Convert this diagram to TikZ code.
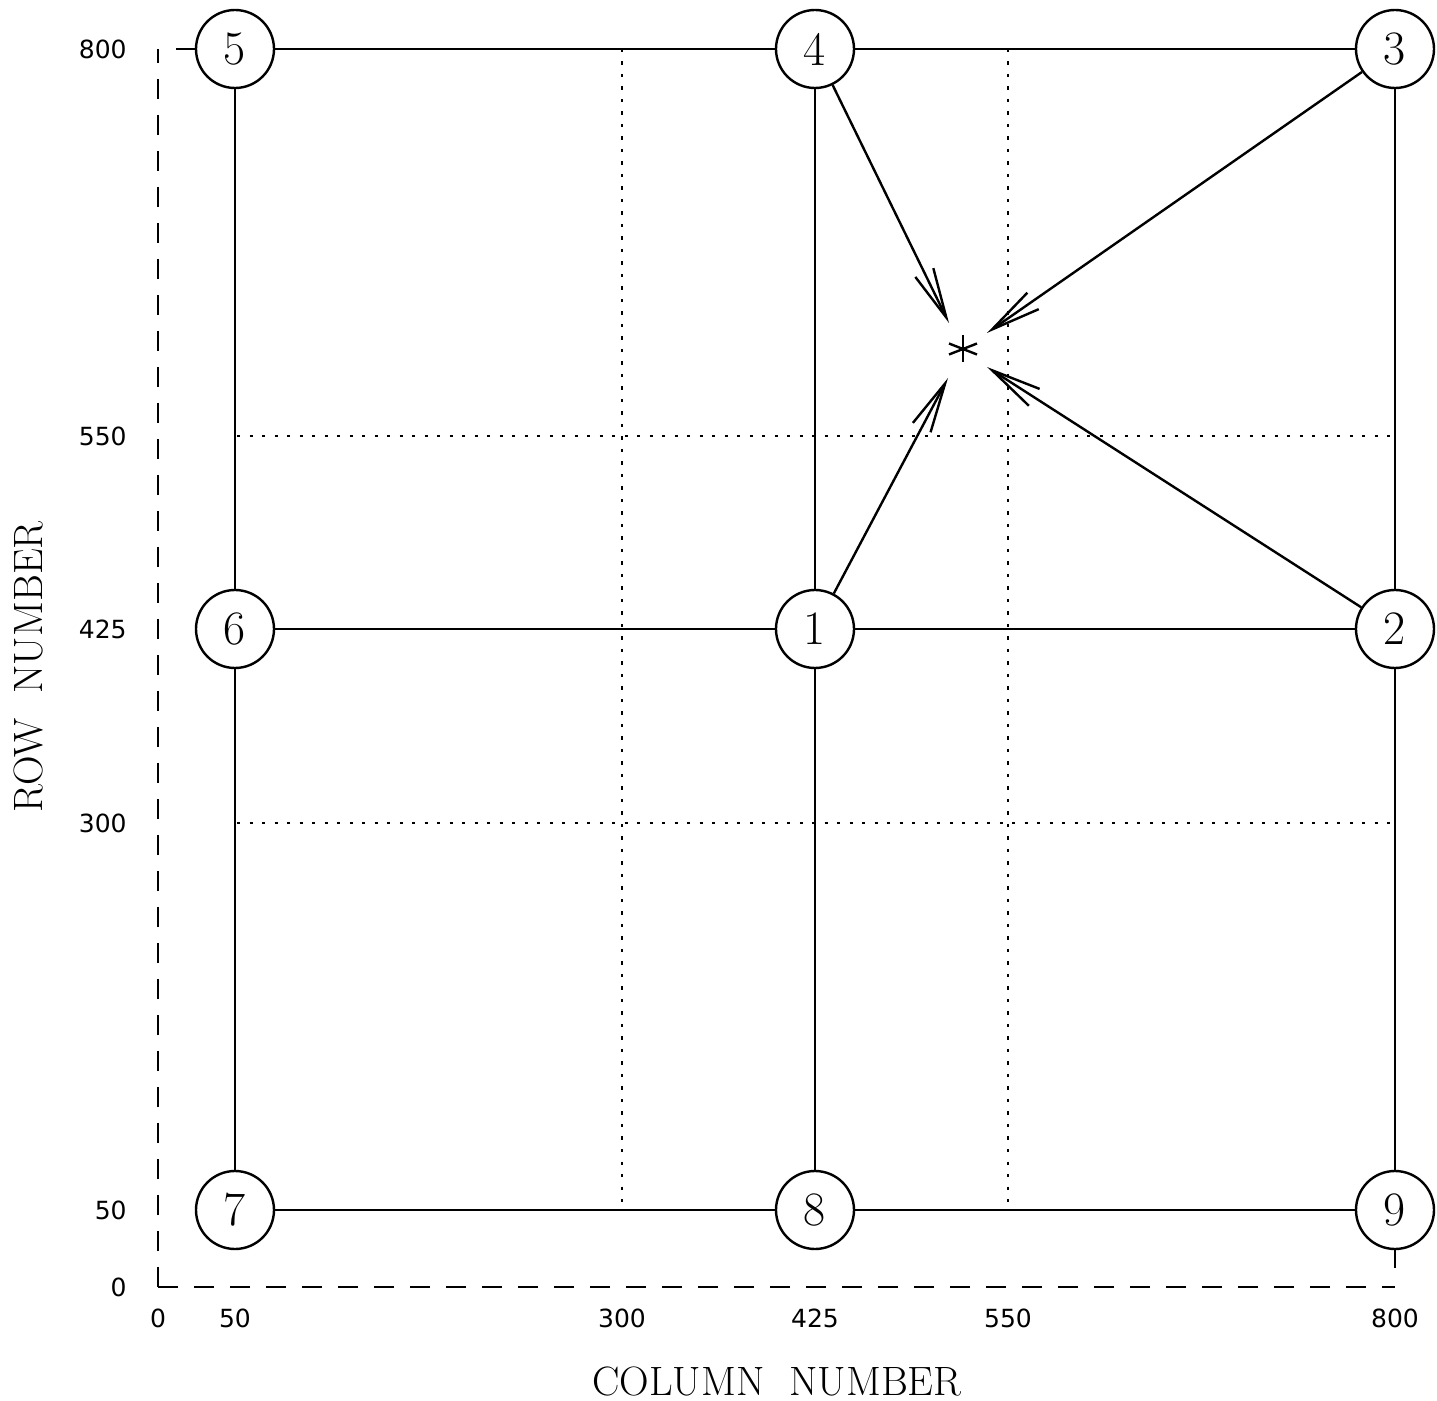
\documentclass[tikz,border=0pt]{standalone}
\usepackage{fontspec}
\newfontfamily\axfont{DejaVu Sans}
\usetikzlibrary{arrows.meta,calc}
\begin{document}
\begin{tikzpicture}[x=0.5pt,y=-0.5pt,
  stn/.style={circle,draw,line width=1.2pt,minimum size=39pt,inner sep=0pt,font=\fontsize{24}{24}\selectfont},
  gridline/.style={line width=1.2pt},
  dots/.style={line width=1.2pt,dash pattern=on 1.6pt off 4.65pt},
  axisline/.style={line width=1.2pt,dash pattern=on 10pt off 8pt},
  ticklab/.style={font=\axfont\fontsize{12.5}{13}\selectfont,inner sep=0pt},
  ttl/.style={font=\fontsize{20.5}{24}\selectfont,inner sep=0pt},
  arr/.style={line width=1.2pt,-{Straight Barb[length=25pt,width=10pt,line width=1.2pt]}}]
\useasboundingbox (0,0) rectangle (1437,1401);
% dotted grid
\draw[dots] (622,49) -- (622,1210);
\draw[dots] (1008,49) -- (1008,1210);
\draw[dots] (237,436) -- (1395,436);
\draw[dots] (237,823) -- (1395,823);
% axes
\coordinate (corner) at (158,1287);
\coordinate (ytop) at (158,49);
\coordinate (xend) at (1395,1287);
\draw[axisline] (corner) -- (ytop);
\draw[axisline] (corner) -- (xend);
% stations
\node[stn] (n5) at (235,49) {5};
\node[stn] (n4) at (815,49) {4};
\node[stn] (n3) at (1395,49) {3};
\node[stn] (n6) at (235,629) {6};
\node[stn] (n1) at (815,629) {1};
\node[stn] (n2) at (1395,629) {2};
\node[stn] (n7) at (235,1210) {7};
\node[stn] (n8) at (815,1210) {8};
\node[stn] (n9) at (1395,1210) {9};
\coordinate (lstub) at (176,49);
\coordinate (bstub) at (1395,1268);
% solid grid
\draw[gridline] (lstub) -- (n5);
\draw[gridline] (n5) -- (n4);
\draw[gridline] (n4) -- (n3);
\draw[gridline] (n6) -- (n1);
\draw[gridline] (n1) -- (n2);
\draw[gridline] (n7) -- (n8);
\draw[gridline] (n8) -- (n9);
\draw[gridline] (n5) -- (n6);
\draw[gridline] (n6) -- (n7);
\draw[gridline] (n4) -- (n1);
\draw[gridline] (n1) -- (n8);
\draw[gridline] (n3) -- (n2);
\draw[gridline] (n2) -- (n9);
\draw[gridline] (n9) -- (bstub);
% star
\coordinate (star) at (963,349);
\draw[line width=1.2pt] ($(star)+(0,-13.5)$) -- ($(star)+(0,13.5)$);
\draw[line width=1.2pt] ($(star)+(-14,-5.5)$) -- ($(star)+(14,5.5)$);
\draw[line width=1.2pt] ($(star)+(-14,5.5)$) -- ($(star)+(14,-5.5)$);
% arrows
\coordinate (t4) at (949,323);
\coordinate (t3) at (987,333);
\coordinate (t2) at (987,367);
\coordinate (t1) at (948,378);
\draw[arr] (n4) -- (t4);
\draw[arr] (n3) -- (t3);
\draw[arr] (n2) -- (t2);
\draw[arr] (n1) -- (t1);
% tick labels
\node[ticklab,anchor=east] (y800) at (127,49) {800};
\node[ticklab,anchor=east] (y550) at (127,436) {550};
\node[ticklab,anchor=east] (y425) at (127,629) {425};
\node[ticklab,anchor=east] (y300) at (127,823) {300};
\node[ticklab,anchor=east] (y50) at (127,1210) {50};
\node[ticklab,anchor=east] (y0) at (127,1287) {0};
\node[ticklab] (x0) at (158,1318) {0};
\node[ticklab] (x50) at (235,1318) {50};
\node[ticklab] (x300) at (622,1318) {300};
\node[ticklab] (x425) at (815,1318) {425};
\node[ticklab] (x550) at (1008,1318) {550};
\node[ticklab] (x800) at (1395,1318) {800};
\node[ttl] (xlab) at (777,1381) {COLUMN\ \ NUMBER};
\node[ttl,rotate=90] (ylab) at (28,667) {ROW\ \ NUMBER};
\end{tikzpicture}
\end{document}
